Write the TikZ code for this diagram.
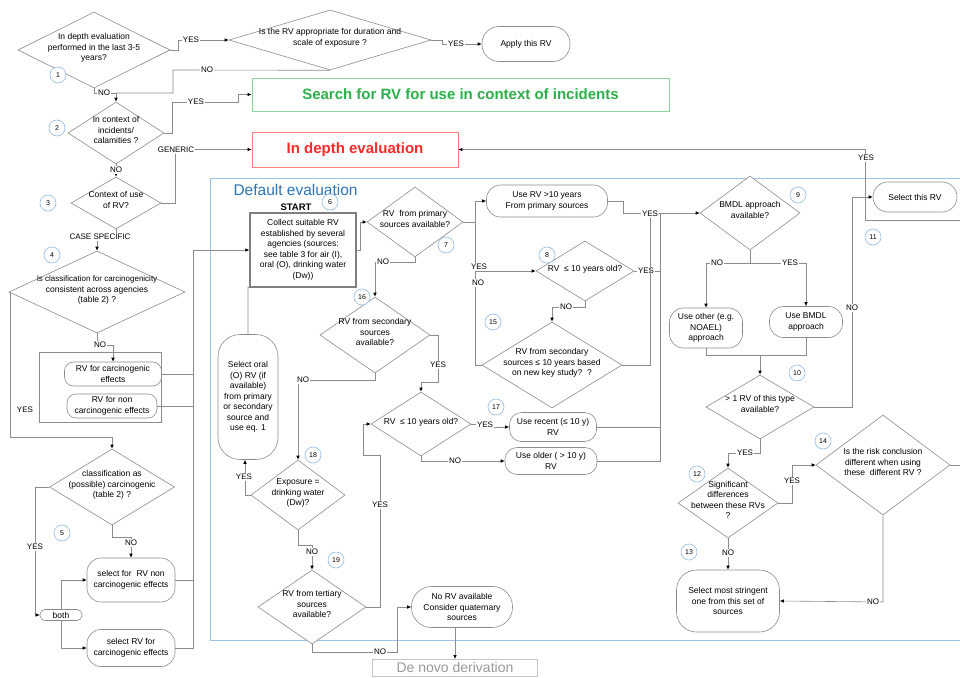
\documentclass[tikz,border=0pt]{standalone}
\usepackage{fontspec}
\setmainfont{Liberation Sans}
\usetikzlibrary{shapes.geometric,arrows.meta}
\definecolor{lc}{HTML}{8C8C8C}
\definecolor{cb}{HTML}{9DC3E6}
\definecolor{gr}{HTML}{2DB04B}
\definecolor{rd}{HTML}{FF2A2A}
\definecolor{bl}{HTML}{2E75B6}
\definecolor{dg}{HTML}{9A9A9A}
\newcommand\dt[1]{\smash{\makebox[0pt]{\begin{tabular}{@{}c@{}}#1\end{tabular}}}}
\begin{document}
\begin{tikzpicture}[x=1pt,y=-1pt,
  every node/.style={font=\fontsize{8.5}{10.5}\selectfont},
  ln/.style={draw=lc, line width=0.6pt},
  ar/.style={ln, -{Latex[length=4pt,width=3.5pt,color=black]}},
  dia/.style={diamond, draw=lc, line width=0.6pt, inner sep=0pt, fill=white},
  rr/.style={rectangle, rounded corners=#1, draw=lc, line width=0.6pt, align=center, inner sep=1pt, fill=white},
  rr/.default=9pt,
  num/.style={circle, draw=cb, line width=0.7pt, minimum size=16pt, inner sep=0pt, fill=white, font=\fontsize{7}{8}\selectfont},
  lb/.style={fill=white, inner sep=0.8pt, font=\fontsize{8}{9}\selectfont},
  big/.style={font=\bfseries\fontsize{15}{18}\selectfont}
]
\useasboundingbox (0,0) rectangle (960,677);
\clip (0,0) rectangle (960,677);
\fill[white] (0,0) rectangle (960,677);

% default evaluation frame
\draw[cb, line width=0.9pt] (210,178) rectangle (985,640);
\node[font=\fontsize{15.5}{18}\selectfont, text=bl, anchor=west] (deftitle) at (230,190) {Default evaluation};

% ---------- top part ----------
\node[dia, minimum width=152pt, minimum height=76pt] (d1) at (94,50) {\dt{In depth evaluation\\performed in the last 3-5\\years?}};
\node[num] (n1) at (58,75) {1};
\node[dia, minimum width=202pt, minimum height=60pt] (d2) at (330,40) {\dt{Is the RV appropriate for duration and\\scale of exposure ?}};
\node[rr=17pt, minimum width=88pt, minimum height=35pt] (apply) at (526,44) {Apply this RV};
\node[draw=gr!55, line width=0.7pt, minimum width=417pt, minimum height=33pt, text=gr, big] (green) at (460.5,94.5) {Search for RV for use in context of incidents};
\node[draw=rd!60, line width=0.7pt, minimum width=206pt, minimum height=35pt, text=rd, big] (red) at (355,149.5) {In depth evaluation};
\node[dia, minimum width=96pt, minimum height=62pt] (d3) at (116,133) {\dt{In context of\\incidents/\\calamities ?}};
\node[num] (n2) at (57,128) {2};
\node[dia, minimum width=90pt, minimum height=52pt] (d4) at (116,203) {\dt{Context of use\\of RV?}};
\node[num] (n3) at (48,203) {3};
\node[dia, minimum width=176pt, minimum height=82pt] (d5) at (97,292) {\dt{\fontsize{8}{10}\selectfont Is classification for carcinogenicity\\consistent across agencies\\(table 2) ?}};
\node[num] (n4) at (52,255) {4};

% group
\node[draw=lc, line width=0.6pt, minimum width=122pt, minimum height=70pt] (grp) at (100,387) {};
\node[rr=9pt, minimum width=97pt, minimum height=24pt] (rr1) at (113,374) {RV for carcinogenic\\effects};
\node[rr=9pt, minimum width=90pt, minimum height=24pt] (rr2) at (112,406) {RV for non\\carcinogenic effects};

\node[dia, minimum width=125pt, minimum height=76pt] (d6) at (112,487) {\dt{classification as\\(possible) carcinogenic\\(table 2) ?}};
\node[num] (n5) at (62,533) {5};
\node[rr=14pt, minimum width=88pt, minimum height=44pt] (selnc) at (131,580) {select for\ \ RV non\\carcinogenic effects};
\node[rr=14pt, minimum width=88pt, minimum height=37pt] (selc) at (131,648) {select RV for\\carcinogenic effects};
\node[rr=5pt, minimum width=42pt, minimum height=11pt, inner sep=0pt] (both) at (61,615) {both};

% ---------- default evaluation ----------
\node[font=\bfseries\fontsize{9.5}{11}\selectfont] (start) at (296,207) {START};
\node[num] (n6) at (330,202) {6};
\node[draw=gray, line width=1.3pt, minimum width=106pt, minimum height=74pt, align=center, inner sep=1pt, fill=white] (collect) at (303,250) {Collect suitable RV\\established by several\\agencies (sources:\\see table 3 for air (I),\\oral (O), drinking water\\(Dw))};
\node[dia, minimum width=96pt, minimum height=70pt] (d7) at (415,222) {\dt{RV\ \ from primary\\sources available?}};
\node[num] (n7) at (446,245) {7};
\node[rr=14pt, minimum width=121pt, minimum height=32pt] (use10) at (547,201) {Use RV >10 years\\From primary sources};
\node[dia, minimum width=98pt, minimum height=60pt] (d8) at (585,271) {\dt{RV\ \ ≤ 10 years old?}};
\node[num] (n8) at (547,255) {8};
\node[dia, minimum width=140pt, minimum height=86pt] (d15) at (552,365) {\dt{RV from secondary\\sources ≤ 10 years based\\on new key study?\ \ ?}};
\node[num] (n15) at (493,322) {15};
\node[dia, minimum width=100pt, minimum height=74pt] (bmdl) at (750,213) {\dt{BMDL approach\\available?}};
\node[num] (n9) at (798,195) {9};
\node[rr=14pt, minimum width=73pt, minimum height=40pt] (useother) at (706,328) {Use other (e.g.\\NOAEL)\\approach};
\node[rr=14pt, minimum width=73pt, minimum height=31pt] (usebmdl) at (806,322) {Use BMDL\\approach};
\node[num] (n10) at (797,373) {10};
\node[dia, minimum width=108pt, minimum height=64pt] (d10) at (760,407) {\dt{> 1 RV of this type\\available?}};
\node[rr=15pt, minimum width=84pt, minimum height=30pt] (select) at (915,197) {Select this RV};
\node[num] (n11) at (873,237) {11};
\node[dia, minimum width=100pt, minimum height=70pt] (d12) at (728,503) {\dt{Significant\\differences\\between these RVs\\?}};
\node[num] (n12) at (697,474) {12};
\node[num] (n13) at (689,552) {13};
\node[dia, minimum width=134pt, minimum height=100pt] (d14) at (883,465) {\dt{Is the risk conclusion\\different when using\\these\ \ different RV ?}};
\node[num] (n14) at (823,441) {14};
\node[rr=20pt, minimum width=103pt, minimum height=62pt] (string) at (728,601) {Select most stringent\\one from this set of\\sources};
\node[dia, minimum width=110pt, minimum height=76pt] (d16) at (375,335) {\dt{RV from secondary\\sources\\available?}};
\node[num] (n16) at (362,297) {16};
\node[dia, minimum width=100pt, minimum height=64pt] (d17) at (421,424) {\dt{RV\ \ ≤ 10 years old?}};
\node[num] (n17) at (496,407) {17};
\node[rr=12pt, minimum width=87pt, minimum height=29pt] (recent) at (553,427) {Use recent (≤ 10 y)\\RV};
\node[rr=12pt, minimum width=92pt, minimum height=27pt] (older) at (551,461) {Use older ( > 10 y)\\RV};
\node[rr=22pt, minimum width=60pt, minimum height=125pt] (oral) at (248,397) {Select oral\\(O) RV (if\\available)\\from primary\\or secondary\\source and\\use eq. 1};
\node[dia, minimum width=94pt, minimum height=70pt] (d18) at (298,495) {\dt{Exposure =\\drinking water\\(Dw)?}};
\node[num] (n18) at (313,455) {18};
\node[dia, minimum width=108pt, minimum height=74pt] (d19) at (312,607) {\dt{RV from tertiary\\sources\\available?}};
\node[num] (n19) at (336,560) {19};
\node[rr=20pt, minimum width=101pt, minimum height=41pt] (norv) at (462,607) {No RV available\\Consider quaternary\\sources};
\node[draw=lc!50, line width=0.6pt, minimum width=165pt, minimum height=17pt, inner sep=1pt, anchor=north, text=dg, font=\fontsize{14}{16}\selectfont] (denovo) at (455,659) {De novo derivation};

% ---------- connectors: top ----------
\draw[ar] (d1.east) -- (178,50) -- (178,40) -- (d2.west);
\node[lb] (y1) at (191,40) {YES};
\draw[ar] (d2.east) -- (442,40) -- (442,44) -- (apply.west);
\node[lb] (y2) at (456,44) {YES};
\draw[ln] (d2.south) -- (173,70) -- (173,93) -- (116,93);
\node[lb] (no1) at (207,70) {NO};
\draw[ar] (d1.south) -- (94,93) -- (116,93) -- (d3.north);
\node[lb] (no2) at (104,93) {NO};
\draw[ar] (d3.east) -- (172,133) -- (172,102) -- (238,102) -- (238,94.5) -- (green.west);
\node[lb] (y3) at (196,102) {YES};
\draw[ar] (d3.south) -- (d4.north);
\node[lb] (no3) at (116,170) {NO};
\draw[ar] (d4.east) -- (175,203) -- (175,149.5) -- (red.west);
\node[lb] (gen) at (176,150) {GENERIC};
\draw[ar] (d4.south) -- (116,237) -- (97,237) -- (d5.north);
\node[lb] (cs) at (100,237) {CASE SPECIFIC};
\draw[ar] (d5.south) -- (97,345) -- (113,345) -- (rr1.north);
\node[lb] (no4) at (100,345) {NO};
\draw[ar] (d5.west) -- (10,292) -- (10,437) -- (112,437) -- (d6.north);
\node[lb] (y4) at (25,410) {YES};
\draw[ln] (rr1.east) -- (193,374);
\draw[ln] (rr2.east) -- (193,406);
\draw[ln] (selnc.east) -- (193,580);
\draw[ar] (selc.east) -- (193,648) -- (193,250) -- (collect.west);
\draw[ar] (d6.south) -- (112,537) -- (131,537) -- (selnc.north);
\node[lb] (no5) at (131,543) {NO};
\draw[ar] (d6.west) -- (35,487) -- (35,615) -- (both.west);
\node[lb] (y5) at (35,547) {YES};
\draw[ar] (both.north) -- (61,580) -- (selnc.west);
\draw[ar] (both.south) -- (61,648) -- (selc.west);

% ---------- connectors: default evaluation ----------
\draw[ar] (collect.east) -- (360,250) -- (360,222) -- (d7.west);
\draw[ar] (d7.east) -- (475,222) -- (475,201) -- (use10.west);
\draw[ar] (d7.east) -- (475,222) -- (475,271) -- (d8.west);
\draw[ln] (d7.east) -- (475,222) -- (475,365) -- (d15.west);
\node[lb] (y6) at (479,267) {YES};
\node[lb] (no6) at (478,283) {NO};
\draw[ar] (d8.south) -- (585,307) -- (552,307) -- (d15.north);
\node[lb] (no7) at (566,307) {NO};
\draw[ln] (d8.east) -- (660,271);
\node[lb] (y7) at (646,271) {YES};
\draw[ln] (d15.east) -- (650,365) -- (650,213);
\draw[ar] (use10.east) -- (623,201) -- (623,213) -- (bmdl.west);
\node[lb] (y8) at (650,214) {YES};
\draw[ln] (recent.east) -- (660,427) -- (660,213);
\draw[ln] (older.east) -- (660,461) -- (660,427);
\draw[ar] (bmdl.south) -- (750,263) -- (706,263) -- (useother.north);
\draw[ar] (bmdl.south) -- (750,263) -- (806,263) -- (usebmdl.north);
\node[lb] (no8) at (717,263) {NO};
\node[lb] (y9) at (790,263) {YES};
\draw[ar] (usebmdl.south) -- (806,355) -- (760,355) -- (d10.north);
\draw[ln] (useother.south) -- (706,355) -- (760,355);
\draw[ar] (d10.east) -- (852,407) -- (852,197) -- (select.west);
\node[lb] (no9) at (852,308) {NO};
\coordinate (offa) at (970,220);
\draw[ar] (offa) -- (865,220) -- (865,149.5) -- (red.east);
\node[lb] (y10) at (866,158) {YES};
\draw[ar] (d10.south) -- (760,453) -- (728,453) -- (d12.north);
\node[lb] (y11) at (745,453) {YES};
\draw[ar] (d12.east) -- (792,503) -- (792,465) -- (d14.west);
\node[lb] (y12) at (792,481) {YES};
\coordinate (offb) at (970,465);
\draw[ln] (d14.east) -- (offb);
\draw[ar] (d14.south) -- (883,602) -- (string.east);
\node[lb] (no10) at (873,602) {NO};
\draw[ar] (d12.south) -- (string.north);
\node[lb] (no11) at (728,553) {NO};

\draw[ar] (d7.south) -- (415,262) -- (375,262) -- (d16.north);
\node[lb] (no12) at (383,262) {NO};
\draw[ar] (d16.east) -- (438,335) -- (438,382) -- (421,382) -- (d17.north);
\node[lb] (y13) at (438,365) {YES};
\draw[ar] (d16.south) -- (375,380) -- (298,380) -- (d18.north);
\node[lb] (no13) at (303,380) {NO};
\draw[ar] (d17.east) -- (490,424) -- (490,427) -- (recent.west);
\node[lb] (y14) at (485,425) {YES};
\draw[ar] (d17.south) -- (421,461) -- (older.west);
\node[lb] (no14) at (455,461) {NO};
\draw[ar] (d19.east) -- (380,607) -- (380,455) -- (363,455) -- (363,424) -- (d17.west);
\node[lb] (y15) at (380,505) {YES};
\draw[ar] (d18.west) -- (245,495) -- ([xshift=-3pt]oral.south);
\node[lb] (y16) at (244,477) {YES};
\draw[ln] (oral.north) -- (248,287) -- (collect.south west);
\draw[ar] (d18.south) -- (298,545) -- (312,545) -- (d19.north);
\node[lb] (no15) at (312,552) {NO};
\draw[ar] (d19.south) -- (312,652) -- (397,652) -- (397,607) -- (norv.west);
\node[lb] (no16) at (380,652) {NO};
\draw[ar] ([xshift=-7pt]norv.south) -- (denovo.north);
\end{tikzpicture}
\end{document}
